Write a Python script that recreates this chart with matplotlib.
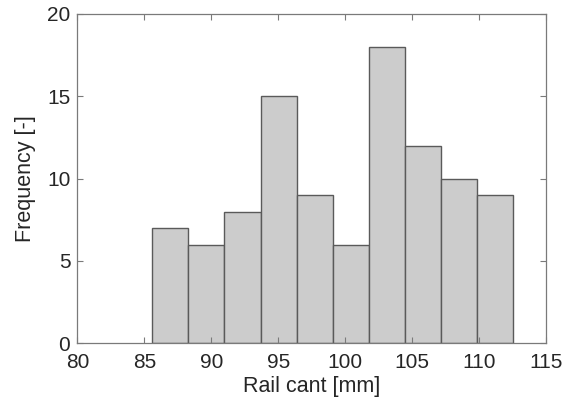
import matplotlib
matplotlib.use("Agg")
import matplotlib.pyplot as plt
import numpy as np

# Histogram data
bin_start = 85.6
bin_width = 2.696
counts = [7, 6, 8, 15, 9, 6, 18, 12, 10, 9]
x_ticks = [80, 85, 90, 95, 100, 105, 110, 115]
y_ticks = [0, 5, 10, 15, 20]

edges = bin_start + bin_width * np.arange(len(counts) + 1)

plt.rcParams['font.family'] = ['Liberation Sans', 'DejaVu Sans']

fig = plt.figure(figsize=(5.74, 4.09), dpi=100)
ax = fig.add_axes([0.1347, 0.1606, 0.951 - 0.1347, 0.9658 - 0.1606])

ax.bar(edges[:-1], counts, width=np.diff(edges), align='edge',
       facecolor='#cccccc', edgecolor='#5a5a5a', linewidth=1.0)

ax.set_xlim(80, 115)
ax.set_ylim(0, 20)
ax.set_xticks(x_ticks)
ax.set_yticks(y_ticks)

axis_col = '#7a7a7a'
text_col = '#262626'
for s in ax.spines.values():
    s.set_color(axis_col)
    s.set_linewidth(0.9)
ax.tick_params(direction='in', length=4, width=0.8, color=axis_col,
               top=True, right=True, labelsize=15, labelcolor=text_col)
ax.tick_params(axis='x', pad=7)
ax.tick_params(axis='y', pad=5)

ax.set_xlabel('Rail cant [mm]', fontsize=15.5, color=text_col, labelpad=3)
ax.set_ylabel('Frequency [-]', fontsize=15.5, color=text_col, labelpad=8)

fig.savefig('out.png', dpi=100)
